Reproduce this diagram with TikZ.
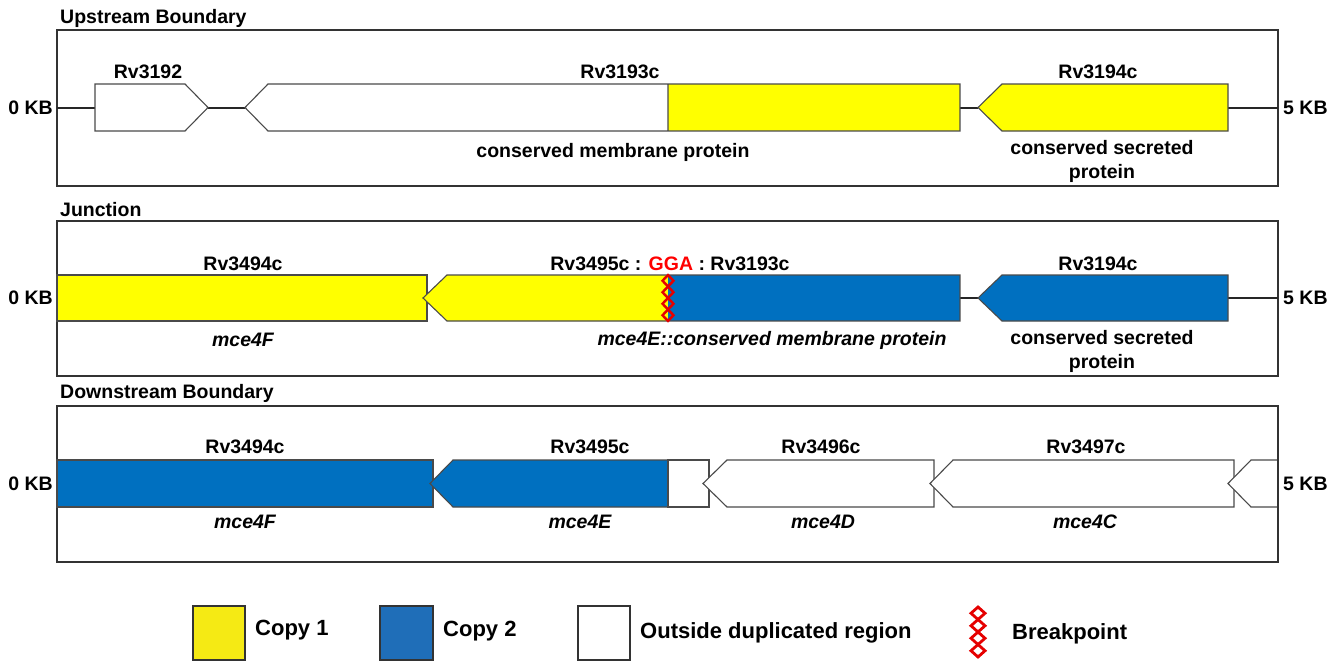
\documentclass[tikz,border=0pt]{standalone}
\usepackage{fontspec}
\setmainfont{Liberation Sans}
\definecolor{copyone}{HTML}{FFFF00}
\definecolor{copytwo}{HTML}{0070C0}
\definecolor{legone}{HTML}{F5EA14}
\definecolor{legtwo}{HTML}{1F6EB8}
\definecolor{edgegray}{HTML}{4A4A4A}
\tikzset{
  panel/.style={draw=black!80, line width=1.6pt},
  chrom/.style={draw=black!85, line width=2pt},
  gene/.style={draw=edgegray, line width=1.1pt, line join=miter},
  lbl/.style={font=\fontsize{19.5}{23.5}\selectfont\bfseries, inner sep=0pt},
  ital/.style={lbl, font=\fontsize{19.5}{23.5}\selectfont\bfseries\itshape},
  legtext/.style={font=\fontsize{22}{26}\selectfont\bfseries, inner sep=0pt, anchor=west},
  legbox/.style={draw=black!80, line width=1.2pt},
  brk/.style={draw=red!90!black, line width=2.4pt, line join=miter}
}
\begin{document}
\begin{tikzpicture}[x=1pt, y=-1pt]
\useasboundingbox (0,0) rectangle (1341,661);

% ---------------- upstream boundary
\node[lbl, anchor=west] (uptitle) at (60,18) {Upstream Boundary};
\draw[panel] (57,30) rectangle (1278,186);
\draw[chrom] (57,107.5) -- (95,107.5)
      (208,107.5) -- (245,107.5)
      (960,107.5) -- (978,107.5)
      (1228,107.5) -- (1278,107.5);
\draw[gene, fill=white] (95,84) -- (185,84) -- (208,107.5) -- (185,131) -- (95,131) -- cycle;
\fill[white] (245,107.5) -- (268,84) -- (668,84) -- (668,131) -- (268,131) -- cycle;
\fill[copyone] (668,84) rectangle (960,131);
\draw[gene] (245,107.5) -- (268,84) -- (960,84) -- (960,131) -- (268,131) -- cycle
      (668,84) -- (668,131);
\draw[gene, fill=copyone] (978,107.5) -- (1002,84) -- (1228,84) -- (1228,131) -- (1002,131) -- cycle;

\node[lbl] (uprvA) at (148,72) {Rv3192};
\node[lbl] (uprvB) at (620,72) {Rv3193c};
\node[lbl] (uprvC) at (1098,72) {Rv3194c};
\node[lbl] (upprotB) at (613,152) {conserved membrane protein};
\node[lbl, align=center] (upprotC) at (1102,161.5) {conserved secreted\\protein};
\node[lbl, anchor=east] (upzero) at (53,107.5) {0 KB};
\node[lbl, anchor=west] (upfive) at (1283,107.5) {5 KB};

% ---------------- junction
\node[lbl, anchor=west] (juntitle) at (60,210) {Junction};
\draw[panel] (57,221) rectangle (1278,376);
\draw[chrom] (960,298) -- (978,298)
      (1228,298) -- (1278,298);
\draw[gene, fill=copyone] (57,275) rectangle (427,321);
\fill[copyone] (423,298) -- (447,275) -- (668,275) -- (668,321) -- (447,321) -- cycle;
\fill[copytwo] (668,275) rectangle (960,321);
\draw[gene] (423,298) -- (447,275) -- (960,275) -- (960,321) -- (447,321) -- cycle;
\draw[gene, fill=copytwo] (978,298) -- (1002,275) -- (1228,275) -- (1228,321) -- (1002,321) -- cycle;
\foreach \i in {0,...,3}
  \draw[brk] (668,{275+11.5*\i}) -- (673.5,{280.75+11.5*\i}) -- (668,{286.5+11.5*\i})
             -- (662.5,{280.75+11.5*\i}) -- cycle;

\node[lbl] (junrvA) at (243,264) {Rv3494c};
\node[lbl] (junrvB) at (670,264) {Rv3495c : \textcolor{red}{GGA} : Rv3193c};
\node[lbl] (junrvC) at (1098,264) {Rv3194c};
\node[ital] (junprotA) at (243,340) {mce4F};
\node[ital] (junprotB) at (772,340) {mce4E::conserved membrane protein};
\node[lbl, align=center] (junprotC) at (1102,351.5) {conserved secreted\\protein};
\node[lbl, anchor=east] (junzero) at (53,298) {0 KB};
\node[lbl, anchor=west] (junfive) at (1283,298) {5 KB};

% ---------------- downstream boundary
\node[lbl, anchor=west] (dntitle) at (60,393) {Downstream Boundary};
\draw[panel] (57,406) rectangle (1278,562);
\draw[gene, fill=copytwo] (57,460) rectangle (433,507);
\draw[gene, fill=copytwo] (430,483.5) -- (453,460) -- (668,460) -- (668,507) -- (453,507) -- cycle;
\draw[gene, fill=white] (668,460) rectangle (709,507);
\draw[gene, fill=white] (703,483.5) -- (727,460) -- (934,460) -- (934,507) -- (727,507) -- cycle;
\draw[gene, fill=white] (930,483.5) -- (953,460) -- (1234,460) -- (1234,507) -- (953,507) -- cycle;
\draw[gene, fill=white] (1278,460) -- (1251,460) -- (1228,483.5) -- (1251,507) -- (1278,507);
\draw[panel] (1278,406) -- (1278,562);

\node[lbl] (dnrvA) at (245,447) {Rv3494c};
\node[lbl] (dnrvB) at (590,447) {Rv3495c};
\node[lbl] (dnrvC) at (821,447) {Rv3496c};
\node[lbl] (dnrvD) at (1086,447) {Rv3497c};
\node[ital] (dnprotA) at (245,522) {mce4F};
\node[ital] (dnprotB) at (580,522) {mce4E};
\node[ital] (dnprotC) at (823,522) {mce4D};
\node[ital] (dnprotD) at (1085,522) {mce4C};
\node[lbl, anchor=east] (dnzero) at (53,483.5) {0 KB};
\node[lbl, anchor=west] (dnfive) at (1283,483.5) {5 KB};

% ---------------- legend
\draw[legbox, fill=legone] (193,606) rectangle (245,660);
\node[legtext] (legA) at (255,630) {Copy 1};
\draw[legbox, fill=legtwo] (380,606) rectangle (433,660);
\node[legtext] (legB) at (443,631) {Copy 2};
\draw[legbox, fill=white] (578,606) rectangle (630,660);
\node[legtext] (legC) at (640,633) {Outside duplicated region};
\foreach \i in {0,...,3}
  \draw[brk, line width=2.8pt] (978,{607+12.5*\i}) -- (985,{613.25+12.5*\i}) -- (978,{619.5+12.5*\i})
             -- (971,{613.25+12.5*\i}) -- cycle;
\node[legtext] (legD) at (1012,634) {Breakpoint};
\end{tikzpicture}
\end{document}
